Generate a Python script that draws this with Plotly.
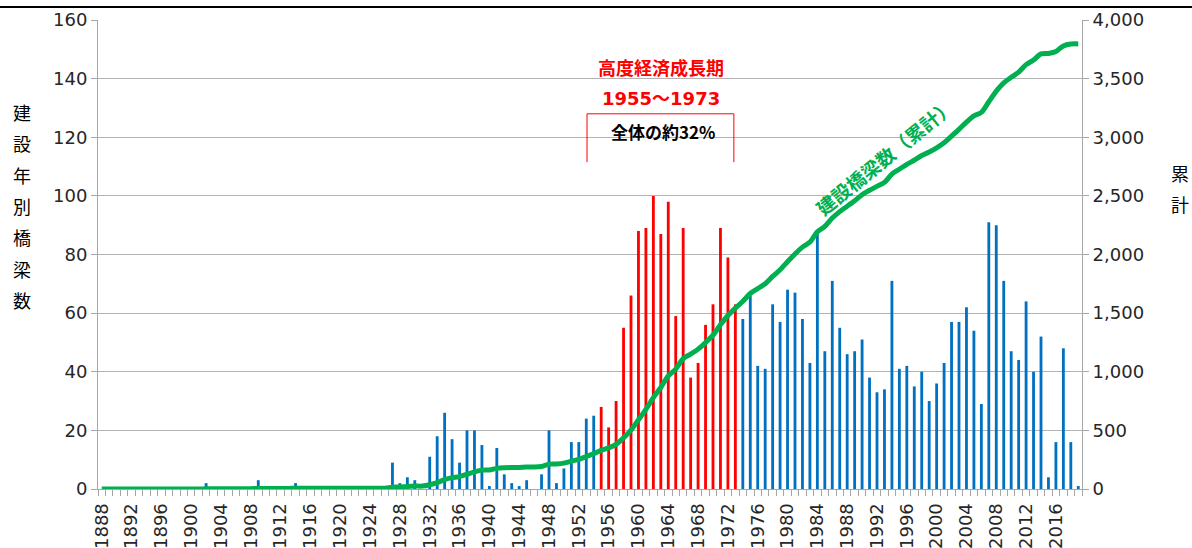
import plotly.graph_objects as go

# ---- data ----
years = list(range(1888, 2020))
bridges_per_year = [
    # 1888-1899
    0, 0, 0, 0, 0, 0, 0, 0, 0, 0, 0, 0,
    # 1900-1909
    0, 0, 2, 0, 0, 0, 0, 0, 0, 3,
    # 1910-1919
    0, 0, 0, 0, 2, 0, 0, 0, 0, 0,
    # 1920-1929
    0, 0, 0, 0, 0, 0, 0, 9, 2, 4,
    # 1930-1939
    3, 0, 11, 18, 26, 17, 9, 20, 20, 15,
    # 1940-1949
    1, 14, 5, 2, 1, 3, 0, 5, 20, 2,
    # 1950-1959
    7, 16, 16, 24, 25, 28, 21, 30, 55, 66,
    # 1960-1969
    88, 89, 100, 87, 98, 59, 89, 38, 43, 56,
    # 1970-1979
    63, 89, 79, 63, 58, 66, 42, 41, 63, 57,
    # 1980-1989
    68, 67, 58, 43, 87, 47, 71, 55, 46, 47,
    # 1990-1999
    51, 38, 33, 34, 71, 41, 42, 35, 40, 30,
    # 2000-2009
    36, 43, 57, 57, 62, 54, 29, 91, 90, 71,
    # 2010-2019
    47, 44, 64, 40, 52, 4, 16, 48, 16, 1,
]
high_growth_start, high_growth_end = 1955, 1973
tick_years = list(range(1888, 2017, 4))
tick_labels = [str(y) for y in tick_years]

left_title = "建設年別橋梁数"
right_title = "累計"
line_label = "建設橋梁数（累計）"
period_title = "高度経済成長期"
period_range = "1955〜1973"
period_share = "全体の約32%"

# cumulative
cumulative = []
s = 0
for v in bridges_per_year:
    s += v
    cumulative.append(s)

BLUE = "#0070C0"
RED = "#FF0000"
GREEN = "#00B050"
bar_colors = [RED if high_growth_start <= y <= high_growth_end else BLUE for y in years]

NUM_FONT = "DejaVu Sans, Noto Sans CJK JP, sans-serif"
JP_FONT = "Noto Sans CJK JP, DejaVu Sans, sans-serif"

fig = go.Figure()
fig.add_trace(go.Bar(x=years, y=bridges_per_year, marker=dict(color=bar_colors, line=dict(width=0)),
                     width=0.38, yaxis="y", hoverinfo="x+y"))
fig.add_trace(go.Scatter(x=years, y=cumulative, mode="lines", yaxis="y2",
                         line=dict(color=GREEN, width=5, shape="spline", smoothing=0.8)))

# plot area geometry (px)
L, R, T, B = 98, 110, 20, 59
W, H = 1192, 548
pw, ph = W - L - R, H - T - B

def px2paper_x(px):
    return (px - L) / pw

def px2paper_y(py):
    return (H - B - py) / ph

annotations = []
# left vertical title, one char per line
for i, ch in enumerate(left_title):
    annotations.append(dict(text=ch, x=px2paper_x(22), y=px2paper_y(112 + i * 31.3), xref="paper", yref="paper",
                            showarrow=False, font=dict(family=JP_FONT, size=18, color="#000000"),
                            xanchor="center", yanchor="middle"))
for i, ch in enumerate(right_title):
    annotations.append(dict(text=ch, x=px2paper_x(1180), y=px2paper_y(173 + i * 31.3), xref="paper", yref="paper",
                            showarrow=False, font=dict(family=JP_FONT, size=18, color="#000000"),
                            xanchor="center", yanchor="middle"))

annotations += [
    dict(text=f"<b>{period_title}</b>", x=1963.0, y=143.9, xref="x", yref="y", showarrow=False,
         font=dict(family=JP_FONT, size=18, color=RED)),
    dict(text=f"<b>{period_range}</b>", x=1963.0, y=133.3, xref="x", yref="y", showarrow=False,
         font=dict(family=NUM_FONT, size=18, color=RED)),
    dict(text=f"<b>{period_share}</b>", x=1963.3, y=121.8, xref="x", yref="y", showarrow=False,
         font=dict(family=JP_FONT, size=17, color="#000000")),
    dict(text=f"<b>{line_label}</b>", x=1993.0, y=113.6, xref="x", yref="y", showarrow=False,
         textangle=-39, font=dict(family=JP_FONT, size=19, color=GREEN)),
]

shapes = [
    # top black border line
    dict(type="line", xref="paper", yref="paper", x0=px2paper_x(0), x1=px2paper_x(W),
         y0=px2paper_y(7), y1=px2paper_y(7), line=dict(color="#000000", width=2)),
    # bracket
    dict(type="line", xref="x", yref="y", x0=1953.1, x1=1953.1, y0=111.5, y1=128, line=dict(color=RED, width=1)),
    dict(type="line", xref="x", yref="y", x0=1953.1, x1=1972.8, y0=128, y1=128, line=dict(color=RED, width=1)),
    dict(type="line", xref="x", yref="y", x0=1972.8, x1=1972.8, y0=111.5, y1=128, line=dict(color=RED, width=1)),
]

AX = "#a6a6a6"
fig.update_layout(
    width=W, height=H,
    margin=dict(l=L, r=R, t=T, b=B, pad=0, autoexpand=False),
    plot_bgcolor="white", paper_bgcolor="white",
    showlegend=False,
    annotations=annotations,
    shapes=shapes,
    xaxis=dict(range=[1887.5, 2019.5], tickmode="array", tickvals=tick_years, ticktext=tick_labels,
               tickangle=-90, ticks="", showgrid=False, showline=True, linecolor=AX, zeroline=False,
               automargin=False, ticklabelstandoff=6,
               tickfont=dict(family=NUM_FONT, size=18, color="#262626"),
               minor=dict(tickmode="linear", tick0=0.5, dtick=1, ticks="outside", ticklen=6,
                          tickcolor=AX, showgrid=False)),
    yaxis=dict(range=[0, 160], dtick=20, showgrid=True, gridcolor="#b3b3b3", gridwidth=1,
               showline=True, linecolor=AX, ticks="outside", ticklen=6, tickcolor=AX, zeroline=False,
               automargin=False,
               tickfont=dict(family=NUM_FONT, size=18, color="#262626")),
    yaxis2=dict(range=[0, 4000], dtick=500, tickformat=",d", overlaying="y", side="right",
                showgrid=False, showline=True, linecolor=AX, ticks="outside", ticklen=6, tickcolor=AX,
                zeroline=False, automargin=False,
                tickfont=dict(family=NUM_FONT, size=18, color="#262626")),
)

fig.write_html("out.html", config={"displayModeBar": False},
               post_script="document.body.style.margin='0';document.body.style.overflow='hidden';")
